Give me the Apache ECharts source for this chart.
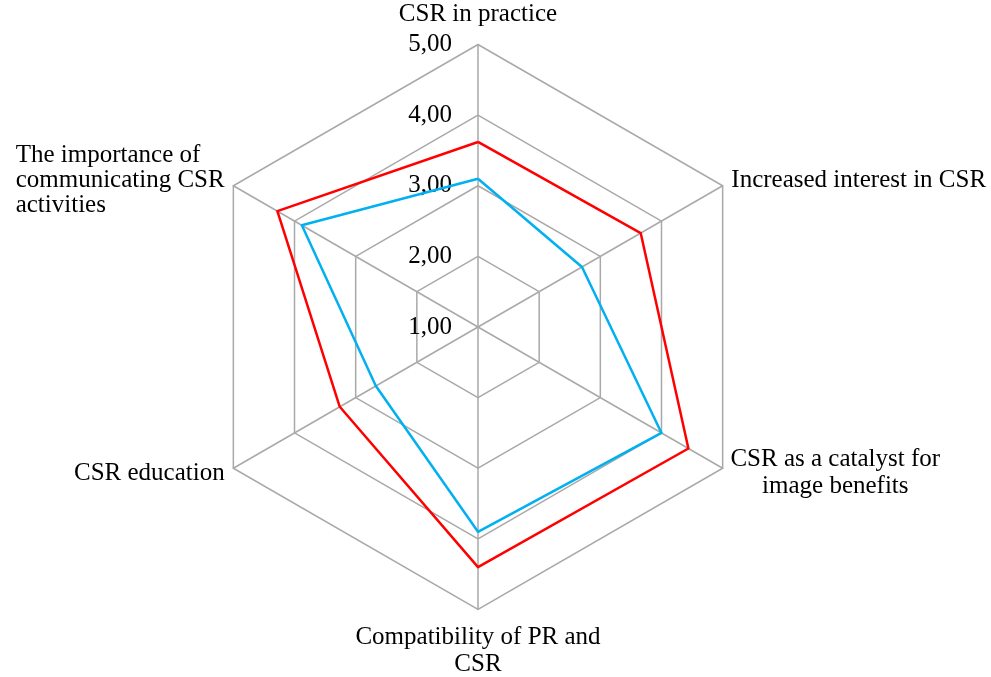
<!DOCTYPE html>
<html>
<head>
<meta charset="utf-8">
<script src="https://cdn.jsdelivr.net/npm/echarts@6/dist/echarts.min.js"></script>
<style>html,body{margin:0;padding:0;background:#fff;}#c{width:991px;height:677px;}</style>
</head>
<body>
<div id="c"></div>
<script>
// Indicators listed counter-clockwise from the top (ECharts radar order)
const categories = [
  'CSR in practice',
  'The importance of\ncommunicating CSR\nactivities',
  'CSR education',
  'Compatibility of PR and\nCSR',
  'CSR as a catalyst for\nimage benefits',
  'Increased interest in CSR'
];
const labelAlign = ['c', 'l', 'c', 'c', 'c', 'c'];
const redValues = [3.62, 4.28, 3.26, 4.40, 4.44, 3.66];
const blueValues = [3.10, 3.88, 2.67, 3.90, 4.00, 2.70];
const axisMin = 1;
const axisMax = 5;
const tickCount = 4;

const FONT = "'Liberation Serif', 'Times New Roman', serif";
const gaps = [17, 10, 10, 14, 9, 10];
const chart = echarts.init(document.getElementById('c'), null, {renderer: 'canvas'});
const indicator = categories.map((name, i) => {
  const o = {name: name, min: axisMin, max: axisMax, nameGap: gaps[i]};
  if (i === 0) o.axisLabel = {show: true};
  return o;
});
chart.setOption({
  animation: false,
  backgroundColor: '#ffffff',
  radar: {
    center: [478, 327],
    radius: 282.5,
    startAngle: 90,
    splitNumber: tickCount,
    shape: 'polygon',
    indicator: indicator,
    nameGap: 10,
    axisName: {
      color: '#000',
      fontFamily: FONT,
      fontSize: 25,
      formatter: function (name) {
        const idx = categories.indexOf(name);
        const st = labelAlign[idx] || 'c';
        return name.split('\n').map(s => '{' + st + '|' + s + '}').join('\n');
      },
      rich: {
        c: {align: 'center', fontFamily: FONT, fontSize: 25, color: '#000', lineHeight: 27},
        l: {align: 'left', fontFamily: FONT, fontSize: 25, color: '#000', lineHeight: 25}
      }
    },
    axisLine: {lineStyle: {color: '#a9a9a9', width: 1.5}},
    splitLine: {lineStyle: {color: '#a9a9a9', width: 1.5}},
    splitArea: {show: false},
    axisTick: {show: false},
    axisLabel: {
      show: false,
      color: '#000',
      fontFamily: FONT,
      fontSize: 25,
      margin: 26,
      formatter: function (v) { return v.toFixed(2).replace('.', ','); }
    }
  },
  series: [{
    type: 'radar',
    symbol: 'none',
    silent: true,
    data: [
      {value: redValues, lineStyle: {color: '#ff0000', width: 2.5}, itemStyle: {color: '#ff0000'}},
      {value: blueValues, lineStyle: {color: '#00b0f0', width: 2.5}, itemStyle: {color: '#00b0f0'}}
    ]
  }]
});
</script>
</body>
</html>
